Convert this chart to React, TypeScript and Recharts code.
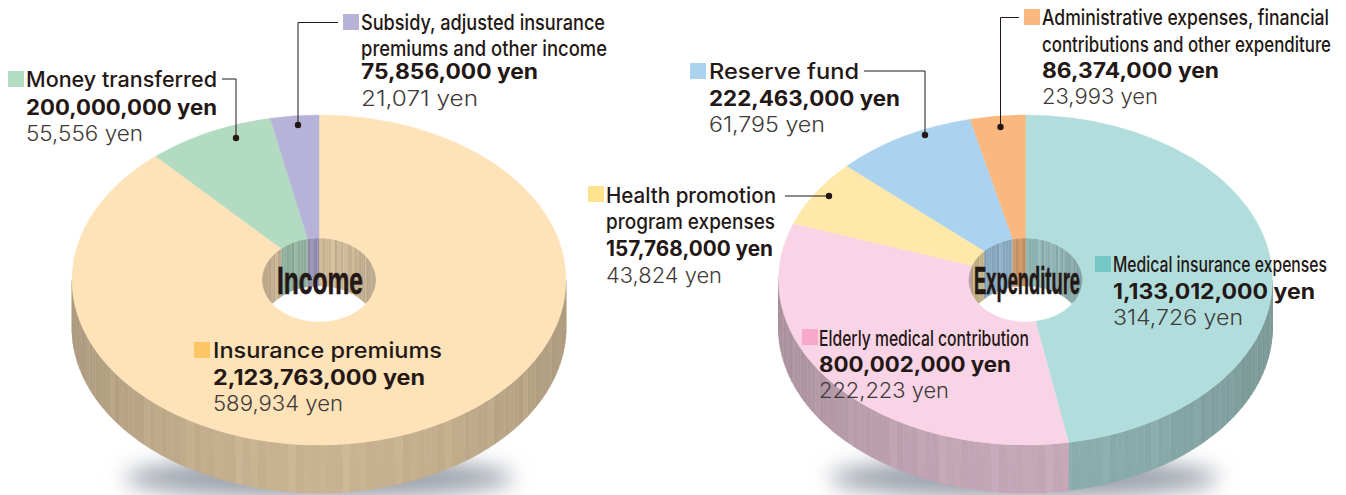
import React from 'react';
import { PieChart, Pie } from 'recharts';

// income side, clockwise from 12 o'clock
const incomeNames = ['Insurance premiums', 'Money transferred', 'Subsidy, adjusted insurance premiums and other income'];
const incomeValues = [2123763000, 200000000, 75856000];
const incomePerPerson = [589934, 55556, 21071];
const incomeColors = ['#fee2b8', '#b3dbc2', '#b7b2d8'];

// expenditure side, clockwise from 12 o'clock
const expenseNames = [
  'Medical insurance expenses',
  'Elderly medical contribution',
  'Health promotion program expenses',
  'Reserve fund',
  'Administrative expenses, financial contributions and other expenditure',
];
const expenseValues = [1133012000, 800002000, 157768000, 222463000, 86374000];
const expensePerPerson = [314726, 222223, 43824, 61795, 23993];
const expenseColors = ['#b1dedc', '#f9d3e6', '#fee8aa', '#abd3f0', '#fab87f'];

// small irregular shading so the rim reads as ribbed, like the print
const RIM_TEXTURE = [1, 0.99, 1.01, 1, 1.03, 0.99, 1, 1.01, 0.99, 1.005, 0.985, 1.025, 1, 0.995];
const HOLE_TEXTURE = [1, 0.97, 1.04, 0.98, 1.07, 0.96, 1.02, 1.05, 0.98, 1.03, 0.95, 1.08, 0.99];

const RADIUS = 247;
const HOLE_RADIUS = 57;
const SQUASH = 165 / 247;
const HOLE_SQUASH = 42 / 57;
const DEPTH = 48;
const RAD = Math.PI / 180;

const table = (names: string[], values: number[], colors: string[]) =>
  names.map((name, i) => ({ name, value: values[i], fill: colors[i] }));

const incomeRows = table(incomeNames, incomeValues, incomeColors);
const expenseRows = table(expenseNames, expenseValues, expenseColors);

const shadeColor = (hex: string, k: number) => {
  const n = parseInt(hex.slice(1), 16);
  const c = [(n >> 16) & 255, (n >> 8) & 255, n & 255].map((v) => Math.min(255, Math.round(v * k)));
  return `rgb(${c[0]},${c[1]},${c[2]})`;
};

const TopFace = (props: any) => {
  const { cx, cy, innerRadius, outerRadius, startAngle, endAngle, fill } = props;
  const ry = outerRadius * SQUASH;
  const iry = innerRadius * HOLE_SQUASH;
  const pt = (a: number, rx: number, r2: number) => `${cx + rx * Math.cos(a * RAD)} ${cy - r2 * Math.sin(a * RAD)}`;
  const large = Math.abs(startAngle - endAngle) > 180 ? 1 : 0;
  const d = [
    `M ${pt(startAngle, outerRadius, ry)}`,
    `A ${outerRadius} ${ry} 0 ${large} 1 ${pt(endAngle, outerRadius, ry)}`,
    `L ${pt(endAngle, innerRadius, iry)}`,
    `A ${innerRadius} ${iry} 0 ${large} 0 ${pt(startAngle, innerRadius, iry)}`,
    'Z',
  ].join(' ');
  return <path d={d} fill={fill} stroke={fill} strokeWidth={0.4} />;
};

// outer rim (front half) and the inside of the hole (back half), as thin facets
const Walls = (props: any) => {
  const { cx, cy, innerRadius, outerRadius, startAngle, endAngle, fill } = props;
  const ry = outerRadius * SQUASH;
  const iry = innerRadius * HOLE_SQUASH;
  const facets: React.ReactElement[] = [];
  const rimStep = 1.8;
  const holeStep = 3.2;

  for (let a = startAngle; a > endAngle; a -= rimStep) {
    const b = Math.max(a - rimStep, endAngle);
    const mid = (a + b) / 2;
    if (Math.sin(mid * RAD) > 0.01) continue;
    const idx = Math.round(Math.abs(a) / rimStep);
    const edge = Math.abs(Math.cos(mid * RAD));
    const k = (0.79 - 0.11 * edge * edge) * RIM_TEXTURE[idx % RIM_TEXTURE.length];
    const x1 = cx + outerRadius * Math.cos(a * RAD);
    const y1 = cy - ry * Math.sin(a * RAD);
    const x2 = cx + outerRadius * Math.cos(b * RAD);
    const y2 = cy - ry * Math.sin(b * RAD);
    const color = shadeColor(fill, k);
    facets.push(
      <polygon
        key={`r${a}`}
        points={`${x1},${y1} ${x2},${y2} ${x2},${y2 + DEPTH} ${x1},${y1 + DEPTH}`}
        fill={color}
        stroke={color}
        strokeWidth={0.5}
      />,
    );
  }

  const holeBottom = (x: number) => {
    const t = Math.max(0, 1 - ((x - cx) / innerRadius) ** 2);
    return cy + iry * Math.sqrt(t);
  };
  for (let a = startAngle; a > endAngle; a -= holeStep) {
    const b = Math.max(a - holeStep, endAngle);
    const mid = (a + b) / 2;
    if (Math.sin(mid * RAD) < 0) continue;
    const idx = Math.round(Math.abs(a) / holeStep);
    const edge = Math.abs(Math.cos(mid * RAD));
    const k = (0.8 - 0.1 * edge * edge * edge) * HOLE_TEXTURE[idx % HOLE_TEXTURE.length];
    const x1 = cx + innerRadius * Math.cos(a * RAD);
    const y1 = cy - iry * Math.sin(a * RAD);
    const x2 = cx + innerRadius * Math.cos(b * RAD);
    const y2 = cy - iry * Math.sin(b * RAD);
    const color = shadeColor(fill, k);
    facets.push(
      <polygon
        key={`h${a}`}
        points={`${x1},${y1} ${x2},${y2} ${x2},${Math.min(y2 + DEPTH, holeBottom(x2))} ${x1},${Math.min(y1 + DEPTH, holeBottom(x1))}`}
        fill={color}
        stroke={color}
        strokeWidth={0.3}
      />,
    );
  }
  return <g>{facets}</g>;
};

const INK = '#231815';
const FONT = 'Inter, sans-serif';

interface Row {
  text: string;
  width: number;
  baseline: number;
  kind: 'name' | 'amount' | 'person';
}

const yen = (v: number) => `${v.toLocaleString('en-US')} yen`;

const Note = ({ x, swatch, swatchY, color, rows }: { x: number; swatch: number; swatchY: number; color: string; rows: Row[] }) => (
  <g>
    <rect x={swatch} y={swatchY} width={16} height={16} fill={color} />
    {rows.map((r) => (
      <text
        key={r.text}
        x={x}
        y={r.baseline}
        textLength={r.width}
        lengthAdjust="spacingAndGlyphs"
        fontFamily={FONT}
        fontSize={21}
        fontWeight={r.kind === 'amount' ? 700 : r.kind === 'name' ? 500 : 300}
        fill={r.kind === 'person' ? '#3e3a39' : INK}
      >
        {r.text}
      </text>
    ))}
  </g>
);

const Leader = ({ points, dot }: { points: string; dot: [number, number] }) => (
  <g>
    <polyline points={points} fill="none" stroke="#231815" strokeWidth={1} />
    <circle cx={dot[0]} cy={dot[1]} r={3.2} fill="#231815" />
  </g>
);

export default function App() {
  return (
    <div style={{ position: 'absolute', left: 0, top: 0, width: 1346, height: 495, overflow: 'hidden', background: '#fff' }}>
      <svg width={1346} height={495} style={{ position: 'absolute', left: 0, top: 0 }}>
        <defs>
          <filter id="soft" x="-20%" y="-100%" width="140%" height="300%">
            <feGaussianBlur stdDeviation="11" />
          </filter>
        </defs>
        <ellipse cx={319} cy={478} rx={195} ry={20} fill="#9aa0aa" filter="url(#soft)" />
        <ellipse cx={1024} cy={478} rx={195} ry={20} fill="#9aa0aa" filter="url(#soft)" />
      </svg>

      <div style={{ position: 'absolute', left: 0, top: 0 }}>
        <PieChart width={1346} height={495} margin={{ top: 0, right: 0, bottom: 0, left: 0 }}>
          <Pie data={incomeRows} dataKey="value" nameKey="name" cx={319} cy={280} innerRadius={HOLE_RADIUS} outerRadius={RADIUS} startAngle={90} endAngle={-270} stroke="none" shape={Walls} isAnimationActive={false} />
          <Pie data={expenseRows} dataKey="value" nameKey="name" cx={1025.5} cy={280} innerRadius={HOLE_RADIUS} outerRadius={RADIUS} startAngle={90} endAngle={-270} stroke="none" shape={Walls} isAnimationActive={false} />
          <Pie data={incomeRows} dataKey="value" nameKey="name" cx={319} cy={280} innerRadius={HOLE_RADIUS} outerRadius={RADIUS} startAngle={90} endAngle={-270} stroke="none" shape={TopFace} isAnimationActive={false} />
          <Pie data={expenseRows} dataKey="value" nameKey="name" cx={1025.5} cy={280} innerRadius={HOLE_RADIUS} outerRadius={RADIUS} startAngle={90} endAngle={-270} stroke="none" shape={TopFace} isAnimationActive={false} />
        </PieChart>
      </div>

      <svg width={1346} height={495} style={{ position: 'absolute', left: 0, top: 0, pointerEvents: 'none' }}>
        <Leader points="222,79 236,79 236,138" dot={[236, 138]} />
        <Leader points="338,22.5 298,22.5 298,125" dot={[298, 125]} />
        <Leader points="864,71 925,71 925,135" dot={[925, 135]} />
        <Leader points="1019,17.5 1000.5,17.5 1000.5,127" dot={[1000.5, 127]} />
        <Leader points="785,196 829,196" dot={[829, 196]} />

        <text x={277} y={294} textLength={86} lengthAdjust="spacingAndGlyphs" fontFamily="Liberation Sans" fontWeight={700} fontSize={38} fill={INK} stroke={INK} strokeWidth={0.6}>Income</text>
        <text x={974} y={294} textLength={106} lengthAdjust="spacingAndGlyphs" fontFamily="Liberation Sans" fontWeight={700} fontSize={38} fill={INK} stroke={INK} strokeWidth={0.6}>Expenditure</text>

        <Note x={213} swatch={194} swatchY={342} color="#fdc564" rows={[
          { text: incomeNames[0], width: 229, baseline: 358, kind: 'name' },
          { text: yen(incomeValues[0]), width: 212, baseline: 385, kind: 'amount' },
          { text: yen(incomePerPerson[0]), width: 130, baseline: 411, kind: 'person' },
        ]} />
        <Note x={26} swatch={8} swatchY={71} color="#b3dcc3" rows={[
          { text: incomeNames[1], width: 191, baseline: 87, kind: 'name' },
          { text: yen(incomeValues[1]), width: 191, baseline: 115, kind: 'amount' },
          { text: yen(incomePerPerson[1]), width: 117, baseline: 141, kind: 'person' },
        ]} />
        <Note x={361} swatch={343} swatchY={14} color="#b7b3d8" rows={[
          { text: 'Subsidy, adjusted insurance', width: 244, baseline: 30, kind: 'name' },
          { text: 'premiums and other income', width: 246, baseline: 56, kind: 'name' },
          { text: yen(incomeValues[2]), width: 177, baseline: 79, kind: 'amount' },
          { text: yen(incomePerPerson[2]), width: 117, baseline: 106, kind: 'person' },
        ]} />

        <Note x={1113} swatch={1095} swatchY={256} color="#74c9c7" rows={[
          { text: expenseNames[0], width: 214, baseline: 272, kind: 'name' },
          { text: yen(expenseValues[0]), width: 202, baseline: 299, kind: 'amount' },
          { text: yen(expensePerPerson[0]), width: 130, baseline: 325, kind: 'person' },
        ]} />
        <Note x={819} swatch={802} swatchY={329} color="#f7a9cb" rows={[
          { text: expenseNames[1], width: 210, baseline: 346, kind: 'name' },
          { text: yen(expenseValues[1]), width: 192, baseline: 372, kind: 'amount' },
          { text: yen(expensePerPerson[1]), width: 130, baseline: 398, kind: 'person' },
        ]} />
        <Note x={606} swatch={588} swatchY={186} color="#fee38f" rows={[
          { text: 'Health promotion', width: 170, baseline: 203, kind: 'name' },
          { text: 'program expenses', width: 169, baseline: 229, kind: 'name' },
          { text: yen(expenseValues[2]), width: 167, baseline: 256, kind: 'amount' },
          { text: yen(expensePerPerson[2]), width: 116, baseline: 283, kind: 'person' },
        ]} />
        <Note x={709} swatch={690} swatchY={63} color="#abd3f0" rows={[
          { text: expenseNames[3], width: 150, baseline: 79, kind: 'name' },
          { text: yen(expenseValues[3]), width: 191, baseline: 106, kind: 'amount' },
          { text: yen(expensePerPerson[3]), width: 116, baseline: 132, kind: 'person' },
        ]} />
        <Note x={1042} swatch={1024} swatchY={9} color="#fab87f" rows={[
          { text: 'Administrative expenses, financial', width: 287, baseline: 25, kind: 'name' },
          { text: 'contributions and other expenditure', width: 289, baseline: 52, kind: 'name' },
          { text: yen(expenseValues[4]), width: 177, baseline: 78, kind: 'amount' },
          { text: yen(expensePerPerson[4]), width: 116, baseline: 104, kind: 'person' },
        ]} />
      </svg>
    </div>
  );
}
